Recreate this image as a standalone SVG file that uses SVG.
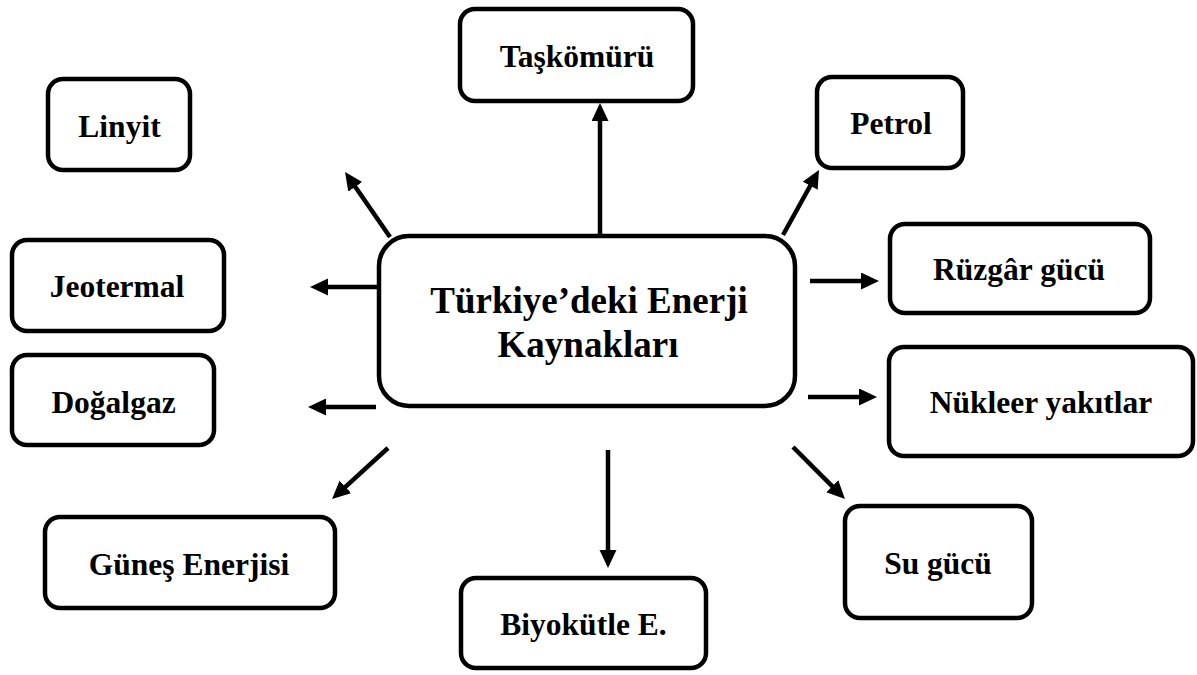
<svg xmlns="http://www.w3.org/2000/svg" width="1197" height="675" viewBox="0 0 1197 675">
<style>
.box{fill:#fff;stroke:#000;stroke-width:4.5}
.lbl{font-family:"Liberation Serif","Times New Roman",serif;font-weight:bold;font-size:31.5px;fill:#000;text-anchor:middle}
.title{font-size:37px}
.con{stroke:#000;stroke-width:4.5;fill:none;marker-end:url(#ah)}
</style>
<defs>
<marker id="ah" markerUnits="userSpaceOnUse" markerWidth="20" markerHeight="18" refX="4" refY="8.5" orient="auto">
<path d="M0,0 L18,8.5 L0,17 z" fill="#000"/>
</marker>
</defs>
<rect width="1197" height="675" fill="#fff"/>
<g id="connectors">
<line class="con" x1="600" y1="234" x2="600" y2="117"/>
<line class="con" x1="390" y1="237" x2="353" y2="183.5"/>
<line class="con" x1="377" y1="287" x2="324" y2="287"/>
<line class="con" x1="376" y1="407" x2="322" y2="407"/>
<line class="con" x1="388" y1="448" x2="342.4" y2="489.6"/>
<line class="con" x1="608" y1="450" x2="608" y2="554"/>
<line class="con" x1="793" y1="447" x2="835.1" y2="489.1"/>
<line class="con" x1="810" y1="281" x2="865" y2="281"/>
<line class="con" x1="808" y1="397" x2="863" y2="397"/>
<line class="con" x1="783" y1="235" x2="812.2" y2="182.25"/>
</g>
<g id="center">
<rect class="box" x="379" y="236" width="416" height="170" rx="30"/>
<text class="lbl title" x="589" y="313">Türkiye’deki Enerji</text>
<text class="lbl title" x="588" y="357">Kaynakları</text>
</g>
<g id="taskomuru">
<rect class="box" x="460" y="9" width="233" height="92" rx="15"/>
<text class="lbl" x="577" y="67">Taşkömürü</text>
</g>
<g id="linyit">
<rect class="box" x="48" y="79" width="142" height="91" rx="15"/>
<text class="lbl" x="119.5" y="137">Linyit</text>
</g>
<g id="jeotermal">
<rect class="box" x="12" y="240" width="212" height="91" rx="15"/>
<text class="lbl" x="117" y="297">Jeotermal</text>
</g>
<g id="dogalgaz">
<rect class="box" x="12" y="355" width="202" height="90" rx="15"/>
<text class="lbl" x="113.5" y="413">Doğalgaz</text>
</g>
<g id="petrol">
<rect class="box" x="817" y="77" width="146" height="91" rx="15"/>
<text class="lbl" x="891" y="134">Petrol</text>
</g>
<g id="ruzgar">
<rect class="box" x="890" y="224" width="260" height="89" rx="15"/>
<text class="lbl" x="1019" y="280">Rüzgâr gücü</text>
</g>
<g id="nukleer">
<rect class="box" x="889" y="347" width="304" height="109" rx="15"/>
<text class="lbl" x="1041" y="413">Nükleer yakıtlar</text>
</g>
<g id="gunes">
<rect class="box" x="45" y="517" width="290" height="91" rx="15"/>
<text class="lbl" x="189" y="575">Güneş Enerjisi</text>
</g>
<g id="biyokutle">
<rect class="box" x="461" y="578" width="245" height="90" rx="15"/>
<text class="lbl" x="583.5" y="635">Biyokütle E.</text>
</g>
<g id="su">
<rect class="box" x="845" y="506" width="187" height="112" rx="15"/>
<text class="lbl" x="938" y="574">Su gücü</text>
</g>
</svg>
